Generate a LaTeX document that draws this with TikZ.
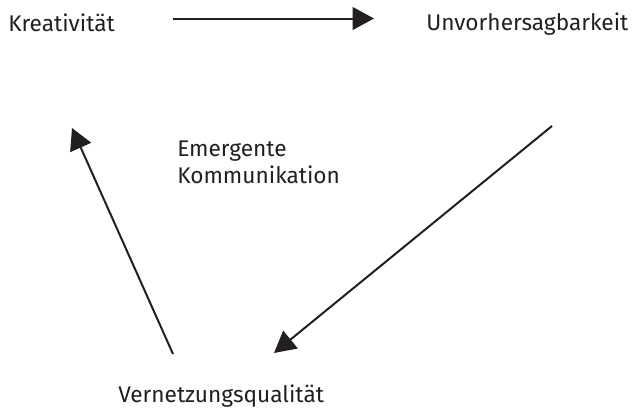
\documentclass[tikz,border=0pt]{standalone}
\usepackage{fontspec}
\setmainfont{Fira Sans}
\usepackage{tikz}
\usetikzlibrary{arrows.meta}
\definecolor{druck}{RGB}{35,31,32}

\begin{document}
\begin{tikzpicture}[x=0.75pt,y=0.75pt,yscale=-1,xscale=1,
  pfeil/.style={draw=druck,line width=1.5pt,-{Triangle[length=16pt,width=17pt]}},
  txt/.style={inner sep=0pt,text=druck,align=left,font=\fontsize{17}{20.25}\selectfont}]
\useasboundingbox (0,0) rectangle (632,408);
% Text Node
\node (kreat) [txt,anchor=base west] at (8,31) {Kreativität};
% Text Node
\node (unvor) [txt,anchor=base west] at (426,30) {Unvorhersagbarkeit};
% Text Node
\node (emerg) [txt,anchor=north west] at (177,141) {Emergente\\Kommunikation};
% Text Node
\node (vernetz) [txt,anchor=base west] at (118,402) {Vernetzungsqualität};
% Arrow ends
\coordinate (kreatA) at (173,18.5);
\coordinate (unvorE) at (374,18.5);
\coordinate (unvorA) at (552,126);
\coordinate (vernetzE) at (274,353);
\coordinate (vernetzA) at (173,354);
\coordinate (kreatE) at (72,128);
%Straight Lines
\draw [pfeil] (kreatA) -- (unvorE);
%Straight Lines
\draw [pfeil] (unvorA) -- (vernetzE);
%Straight Lines
\draw [pfeil] (vernetzA) -- (kreatE);
\end{tikzpicture}
\end{document}
